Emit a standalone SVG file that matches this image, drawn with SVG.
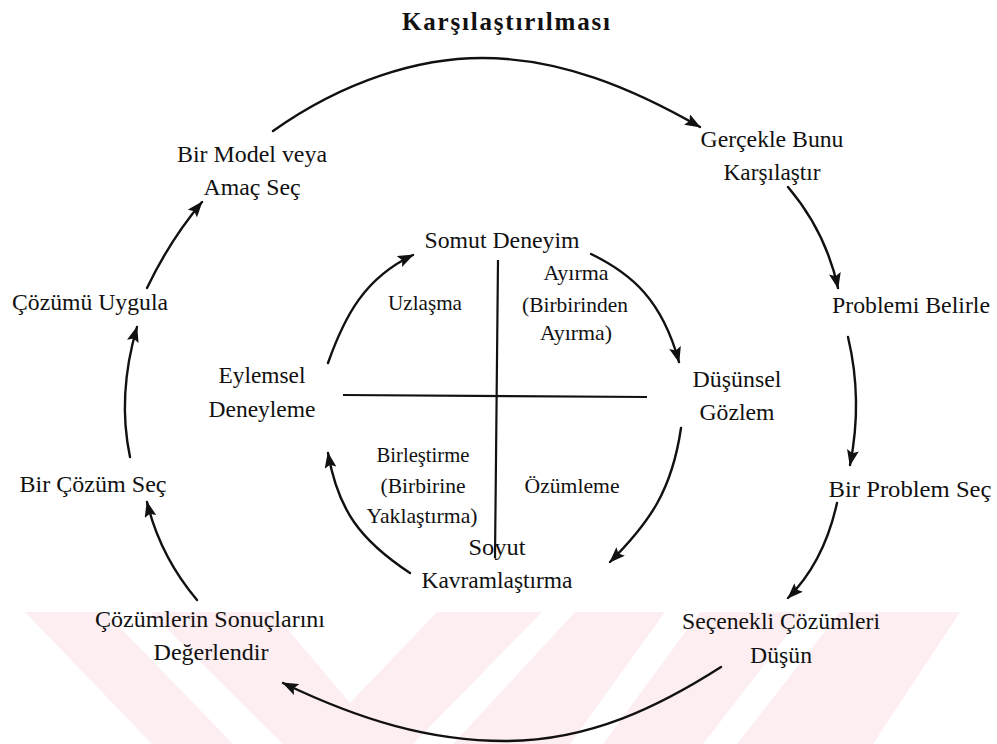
<svg xmlns="http://www.w3.org/2000/svg" width="997" height="744" viewBox="0 0 997 744">
  <style>
    .lbl { font-family: "Liberation Serif", "Times New Roman", serif; font-size: 23px; fill: #111; text-anchor: middle; }
    .q { font-size: 22px; }
    .title { font-family: "Liberation Serif", "Times New Roman", serif; font-size: 25px; font-weight: bold; fill: #111; text-anchor: middle; }
    .wire { fill: none; stroke: #111; stroke-width: 2.4; stroke-linecap: round; }
    .axis { fill: none; stroke: #111; stroke-width: 2.2; }
    .wm { fill: #fdeef1; }
  </style>
  <defs>
    <marker id="arrow" markerUnits="userSpaceOnUse" markerWidth="16" markerHeight="12" viewBox="0 0 16 12" refX="15" refY="6" orient="auto">
      <path d="M0,0 L16,6 L0,12 L3,6 z" fill="#111"/>
    </marker>
  </defs>

  <rect width="997" height="744" fill="#fff"/>

  <!-- faint striped band along the bottom edge -->
  <g id="watermark">
    <polygon class="wm" points="25,612 105,612 233,744 152,744"/>
    <polygon class="wm" points="150,612 273,612 350,703 437,612 542,612 413,744 283,744"/>
    <polygon class="wm" points="575,612 665,612 570,744 453,744"/>
    <polygon class="wm" points="700,612 805,612 703,744 603,744"/>
    <polygon class="wm" points="840,612 960,612 873,744 737,744"/>
  </g>

  <g id="title">
    <text class="title" x="506" y="30" textLength="208" lengthAdjust="spacing">Karşılaştırılması</text>
  </g>

  <!-- quadrant axes -->
  <g id="axes">
    <path class="axis" d="M498,260 L495,558"/>
    <path class="axis" d="M343,395 L647,397"/>
  </g>

  <g id="connectors">
    <!-- outer cycle -->
    <path class="wire" marker-end="url(#arrow)" d="M273,131 C345,80 420,58 482,58 C560,58 632,88 700,127"/>
    <path class="wire" marker-end="url(#arrow)" d="M788,187 Q826,232 838,288"/>
    <path class="wire" marker-end="url(#arrow)" d="M848,337 Q863,400 850,465"/>
    <path class="wire" marker-end="url(#arrow)" d="M837,503 Q824,562 788,598"/>
    <path class="wire" marker-end="url(#arrow)" d="M721,667 C660,706 590,741 505,741 C430,741 360,720 283,683"/>
    <path class="wire" marker-end="url(#arrow)" d="M197,600 Q160,556 147,502"/>
    <path class="wire" marker-end="url(#arrow)" d="M130,457 Q117,395 137,327"/>
    <path class="wire" marker-end="url(#arrow)" d="M147,288 Q170,240 202,202"/>
    <!-- inner cycle -->
    <path class="wire" marker-end="url(#arrow)" d="M328,363 C345,315 365,278 413,255"/>
    <path class="wire" marker-end="url(#arrow)" d="M591,254 C632,274 662,300 679,362"/>
    <path class="wire" marker-end="url(#arrow)" d="M681,428 C672,490 650,522 610,562"/>
    <path class="wire" marker-end="url(#arrow)" d="M410,573 C360,540 338,510 328,453"/>
  </g>

  <!-- outer cycle steps -->
  <g id="model-sec">
    <text class="lbl" x="252" y="162" textLength="150" lengthAdjust="spacingAndGlyphs">Bir Model veya</text>
    <text class="lbl" x="252" y="195" textLength="97" lengthAdjust="spacingAndGlyphs">Amaç Seç</text>
  </g>
  <g id="gercekle">
    <text class="lbl" x="772" y="147" textLength="143" lengthAdjust="spacingAndGlyphs">Gerçekle Bunu</text>
    <text class="lbl" x="772" y="180" textLength="97" lengthAdjust="spacingAndGlyphs">Karşılaştır</text>
  </g>
  <g id="problemi-belirle">
    <text class="lbl" x="911" y="313" textLength="158" lengthAdjust="spacingAndGlyphs">Problemi Belirle</text>
  </g>
  <g id="problem-sec">
    <text class="lbl" x="910" y="497" textLength="163" lengthAdjust="spacingAndGlyphs">Bir Problem Seç</text>
  </g>
  <g id="secenekli">
    <text class="lbl" x="781" y="629" textLength="198" lengthAdjust="spacingAndGlyphs">Seçenekli Çözümleri</text>
    <text class="lbl" x="781" y="663" textLength="62" lengthAdjust="spacingAndGlyphs">Düşün</text>
  </g>
  <g id="degerlendir">
    <text class="lbl" x="210" y="627" textLength="230" lengthAdjust="spacingAndGlyphs">Çözümlerin Sonuçlarını</text>
    <text class="lbl" x="211" y="660" textLength="115" lengthAdjust="spacingAndGlyphs">Değerlendir</text>
  </g>
  <g id="cozum-sec">
    <text class="lbl" x="93" y="492" textLength="147" lengthAdjust="spacingAndGlyphs">Bir Çözüm Seç</text>
  </g>
  <g id="cozumu-uygula">
    <text class="lbl" x="90" y="310" textLength="156" lengthAdjust="spacingAndGlyphs">Çözümü Uygula</text>
  </g>

  <!-- inner learning cycle -->
  <g id="somut">
    <text class="lbl" x="502" y="248" textLength="155" lengthAdjust="spacingAndGlyphs">Somut Deneyim</text>
  </g>
  <g id="dusunsel">
    <text class="lbl" x="737" y="387" textLength="89" lengthAdjust="spacingAndGlyphs">Düşünsel</text>
    <text class="lbl" x="737" y="420" textLength="75" lengthAdjust="spacingAndGlyphs">Gözlem</text>
  </g>
  <g id="soyut">
    <text class="lbl" x="497" y="555" textLength="57" lengthAdjust="spacingAndGlyphs">Soyut</text>
    <text class="lbl" x="497" y="588" textLength="151" lengthAdjust="spacingAndGlyphs">Kavramlaştırma</text>
  </g>
  <g id="eylemsel">
    <text class="lbl" x="262" y="383" textLength="87" lengthAdjust="spacingAndGlyphs">Eylemsel</text>
    <text class="lbl" x="262" y="417" textLength="107" lengthAdjust="spacingAndGlyphs">Deneyleme</text>
  </g>

  <!-- quadrant names -->
  <g id="uzlasma">
    <text class="lbl q" x="425" y="310" textLength="74" lengthAdjust="spacingAndGlyphs">Uzlaşma</text>
  </g>
  <g id="ayirma">
    <text class="lbl q" x="576" y="280" textLength="65" lengthAdjust="spacingAndGlyphs">Ayırma</text>
    <text class="lbl q" x="575" y="312" textLength="106" lengthAdjust="spacingAndGlyphs">(Birbirinden</text>
    <text class="lbl q" x="576" y="340" textLength="72" lengthAdjust="spacingAndGlyphs">Ayırma)</text>
  </g>
  <g id="birlestirme">
    <text class="lbl q" x="423" y="462" textLength="93" lengthAdjust="spacingAndGlyphs">Birleştirme</text>
    <text class="lbl q" x="423" y="493" textLength="85" lengthAdjust="spacingAndGlyphs">(Birbirine</text>
    <text class="lbl q" x="422" y="523" textLength="111" lengthAdjust="spacingAndGlyphs">Yaklaştırma)</text>
  </g>
  <g id="ozumleme">
    <text class="lbl q" x="572" y="493" textLength="95" lengthAdjust="spacingAndGlyphs">Özümleme</text>
  </g>
</svg>
